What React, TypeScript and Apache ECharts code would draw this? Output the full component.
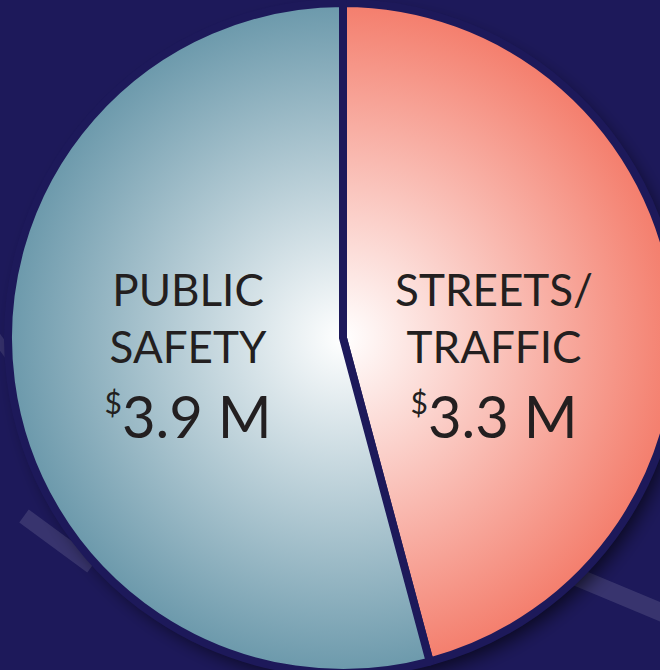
import React, { useEffect, useRef } from "react";
import * as echarts from "echarts";

const categories = ["STREETS/\nTRAFFIC", "PUBLIC\nSAFETY"];
const values = [3.3, 3.9];
const unit = "M";
const colors = ["#f47f6e", "#6d9aac"];

const BG = "#1d195a";
const CX = 343;
const CY = 338;
const R = 335;

export default function App() {
  const ref = useRef<HTMLDivElement>(null);
  useEffect(() => {
    document.body.style.margin = "0";
    document.body.style.background = BG;
    const chart = echarts.init(ref.current!, null, { renderer: "svg" });
    const grad = (c: string) =>
      new echarts.graphic.RadialGradient(
        CX,
        CY,
        R - 4,
        [
          { offset: 0, color: "#ffffff" },
          { offset: 1, color: c },
        ],
        true
      );
    const labelPos = [
      { x: 494, y: 358 },
      { x: 188, y: 358 },
    ];
    chart.setOption({
      animation: false,
      backgroundColor: BG,
      graphic: [
        {
          type: "line",
          z: 0,
          silent: true,
          shape: { x1: -6, y1: 334, x2: 10, y2: 356 },
          style: { stroke: "rgba(255,255,255,0.10)", lineWidth: 10 },
        },
        {
          type: "line",
          z: 0,
          silent: true,
          shape: { x1: 24, y1: 516, x2: 92, y2: 566 },
          style: { stroke: "rgba(255,255,255,0.12)", lineWidth: 16 },
        },
        {
          type: "line",
          z: 0,
          silent: true,
          shape: { x1: 560, y1: 570, x2: 670, y2: 616 },
          style: { stroke: "rgba(255,255,255,0.12)", lineWidth: 18 },
        },
        {
          type: "circle",
          z: 1,
          silent: true,
          shape: { cx: CX, cy: CY, r: R - 2 },
          style: {
            fill: BG,
            shadowBlur: 20,
            shadowColor: "rgba(0,0,0,0.7)",
            shadowOffsetX: 7,
            shadowOffsetY: 9,
          },
        },
      ],
      series: [
        {
          type: "pie",
          z: 3,
          silent: true,
          center: [CX, CY],
          radius: [0, R],
          startAngle: 90,
          clockwise: true,
          itemStyle: { borderColor: BG, borderWidth: 8 },
          emphasis: { disabled: true },
          labelLine: { show: false },
          label: {
            show: true,
            position: "inside",
            color: "#231f20",
            fontFamily: "Lato",
            formatter: (p: any) => `{name|${p.name}}\n{sup|$}{big|${p.value} ${unit}}`,
            rich: {
              name: {
                fontFamily: "Lato",
                fontSize: 44,
                lineHeight: 57,
                color: "#231f20",
              },
              sup: {
                fontFamily: "Lato",
                fontSize: 30,
                lineHeight: 30,
                verticalAlign: "top",
                padding: [12, 0, 0, 0],
                color: "#231f20",
              },
              big: {
                fontFamily: "Lato",
                fontSize: 58,
                lineHeight: 81,
                color: "#231f20",
              },
            },
          },
          labelLayout: (p: any) => ({
            x: labelPos[p.dataIndex].x,
            y: labelPos[p.dataIndex].y,
            align: "center",
            verticalAlign: "middle",
          }),
          data: categories.map((name, i) => ({
            name,
            value: values[i],
            itemStyle: { color: grad(colors[i]) },
          })),
        },
      ],
    });
    return () => chart.dispose();
  }, []);
  return <div ref={ref} style={{ width: 660, height: 670 }} />;
}
